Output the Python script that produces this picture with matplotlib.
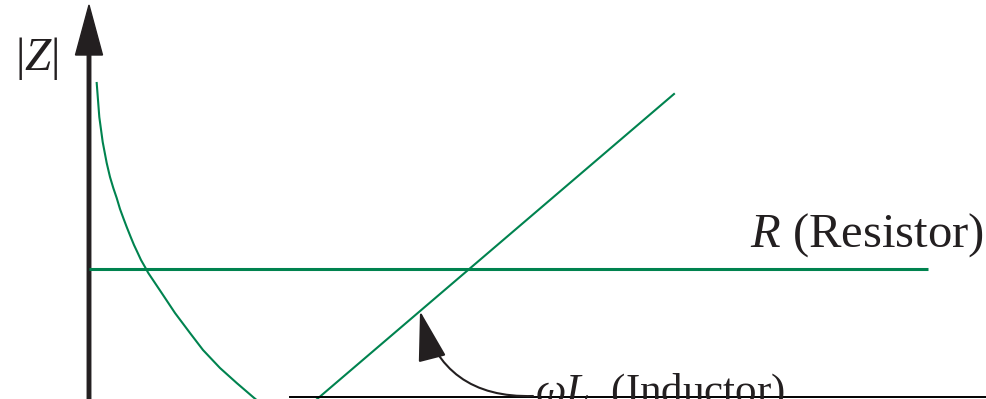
import numpy as np
import matplotlib
matplotlib.use('Agg')
import matplotlib.pyplot as plt

# %% data (omega in arbitrary units, |Z| in arbitrary units)
# capacitor branch 1/(omega C)
omega_C = [0.077, 0.103, 0.137, 0.177, 0.21, 0.243, 0.277, 0.31, 0.343,
           0.377, 0.417, 0.45, 0.483, 0.52, 0.56, 0.593, 0.66, 0.727,
           0.86, 1.01, 1.14, 1.31, 1.477, 1.64, 1.76]
Z_C = [5.11, 4.77, 4.52, 4.31, 4.17, 4.06, 3.96, 3.85, 3.76,
       3.67, 3.57, 3.49, 3.42, 3.34, 3.27, 3.21, 3.11, 3.01,
       2.81, 2.61, 2.44, 2.26, 2.11, 1.97, 1.87]

# inductor omega L (straight line through origin)
omega_L = [0.0, 5.85]
Z_L = [0.0, 5.00]

# resistor R (flat)
omega_R = [0.0, 8.39]
Z_R = [3.25, 3.25]

# bottom rule seen at the lower edge of the crop
omega_base = [2.01, 9.0]
Z_base = [1.97, 1.97]

labels = {'R': '$R$ (Resistor)', 'L': r'$\omega L$  (Inductor)', 'Z': '|$Z$|'}

# %% style
plt.rcParams['font.family'] = ['Liberation Serif', 'DejaVu Serif']
plt.rcParams['mathtext.fontset'] = 'custom'
plt.rcParams['mathtext.rm'] = 'Liberation Serif'
plt.rcParams['mathtext.it'] = 'Liberation Serif:italic'

green = '#00834f'
ink = '#231f20'

# %% figure
fig = plt.figure(figsize=(9.86, 3.99), dpi=100)
ax = fig.add_axes([0, 0, 1, 1])
ax.set_xlim(-0.89, 8.97)
ax.set_ylim(1.95, 5.94)
ax.axis('off')

# curves
ax.plot(omega_C, Z_C, color=green, lw=1.5, solid_joinstyle='round')
ax.plot(omega_L, Z_L, color=green, lw=1.5)
ax.plot(omega_R, Z_R, color=green, lw=2.2, solid_capstyle='butt')
ax.plot(omega_base, Z_base, color='black', lw=1.4)

# vertical |Z| axis with arrow
ax.arrow(0, 1.8, 0, 5.89 - 1.8, width=0.035, head_width=0.27,
         head_length=0.5, length_includes_head=True, color=ink)

# labels
ax.text(-0.52, 5.35, labels['Z'], fontsize=34, ha='center', va='center',
        color=ink)
ax.text(6.61, 3.47, labels['R'], fontsize=35, ha='left', va='baseline',
        color=ink)
ax.text(4.46, 1.91, labels['L'], fontsize=31, ha='left', va='baseline',
        color=ink)

# curved pointer from the inductor label to the line
ax.annotate('', xy=(3.31, 2.83), xytext=(4.44, 1.98),
            arrowprops=dict(arrowstyle='-|>,head_length=1.6,head_width=0.45',
                            connectionstyle='arc3,rad=-0.4',
                            color=ink, lw=1.5, mutation_scale=20,
                            shrinkA=0, shrinkB=0))

plt.savefig('out.png', dpi=100)
